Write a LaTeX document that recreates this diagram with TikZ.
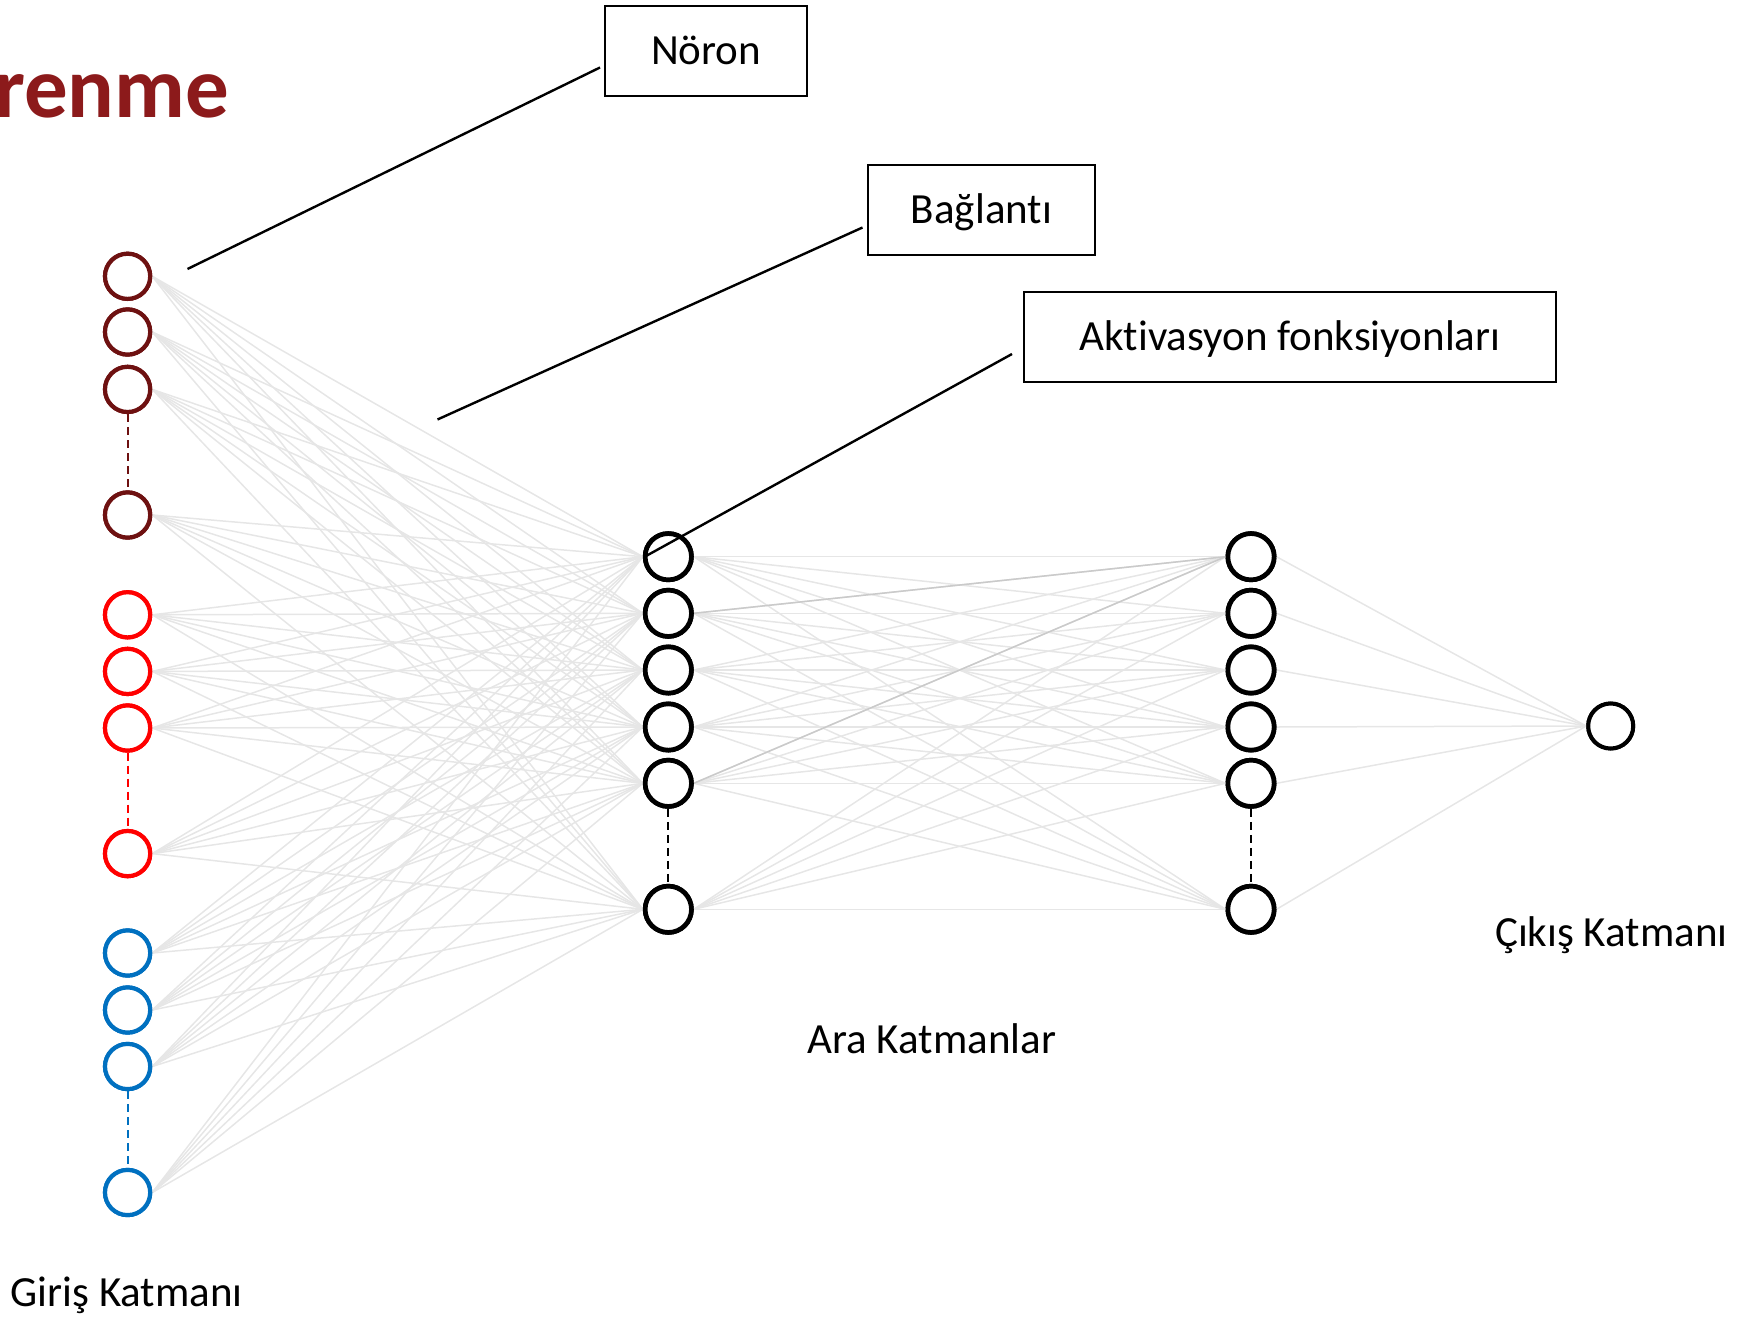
\documentclass[tikz,border=0pt]{standalone}
\usepackage{fontspec}
\setmainfont[Ligatures=NoCommon]{Carlito}
\usetikzlibrary{calc}

\definecolor{maroon}{HTML}{6E1111}
\definecolor{titlered}{HTML}{8C1A1B}
\definecolor{inred}{HTML}{FF0000}
\definecolor{inblue}{HTML}{0070C0}
\definecolor{wire}{HTML}{E6E6E6}
\definecolor{wiredark}{HTML}{CACACA}

\tikzset{
  neuron/.style={circle, draw=#1, fill=white, line width=4.2pt, minimum size=45.2pt, inner sep=0pt},
  hidneuron/.style={circle, draw=black, fill=white, line width=4.7pt, minimum size=46.3pt, inner sep=0pt},
  outneuron/.style={circle, draw=black, fill=white, line width=4pt, minimum size=45pt, inner sep=0pt},
  wireline/.style={draw=wire, line width=1.5pt},
  wirehi/.style={draw=wiredark, line width=1.5pt},
  gapline/.style={draw=#1, line width=2pt, dash pattern=on 8pt off 5pt},
  labelbox/.style={draw=black, line width=2.3pt, inner sep=0pt, minimum height=89.7pt,
                   text height=27.5pt, text depth=0pt, font=\fontsize{43}{43}\selectfont},
  layertext/.style={anchor=base, inner sep=0pt, font=\fontsize{43}{43}\selectfont},
  callout/.style={draw=black, line width=2.4pt},
}

\begin{document}
\begin{tikzpicture}[x=1pt, y=-1pt]
  \useasboundingbox (0,0) rectangle (1740,1317);

  % title fragment, running off the left edge
  \node[anchor=base west, inner sep=0pt, text=titlered,
        font=\fontsize{87}{87}\selectfont\bfseries] (title) at (-6,117.5) {renme};

  % input layer
  \foreach \i/\y/\c in {1/276.3/maroon, 2/332/maroon, 3/389.4/maroon, 4/515/maroon,
                        5/614.8/inred, 6/671.4/inred, 7/728/inred, 8/853.6/inred,
                        9/953/inblue, 10/1010/inblue, 11/1066.5/inblue, 12/1192.5/inblue}
    \node[neuron=\c] (in\i) at (127.6,\y) {};

  % hidden layers
  \foreach \i/\y in {1/556.7, 2/613.3, 3/670, 4/727, 5/783.3, 6/909.3} {
    \node[hidneuron] (ha\i) at (668.3,\y) {};
    \node[hidneuron] (hb\i) at (1251,\y) {};
  }

  % output layer
  \node[outneuron] (out) at (1610.7,726) {};

  % connections
  \foreach \i in {1,...,12}
    \foreach \j in {1,...,6}
      \draw[wireline] (in\i.east) -- (ha\j.west);
  \foreach \i in {1,...,6}
    \foreach \j in {1,...,6}
      \draw[wireline] (ha\i.east) -- (hb\j.west);
  \foreach \i in {1,...,6}
    \draw[wireline] (hb\i.east) -- (out.west);
  \draw[wirehi] (ha2.east) -- (hb1.west);
  \draw[wirehi] (ha5.east) -- (hb1.west);

  % redraw neurons over the wires
  \foreach \i/\c in {1/maroon, 2/maroon, 3/maroon, 4/maroon,
                     5/inred, 6/inred, 7/inred, 8/inred,
                     9/inblue, 10/inblue, 11/inblue, 12/inblue}
    \node[neuron=\c] at (in\i) {};
  \foreach \i in {1,...,6} {
    \node[hidneuron] at (ha\i) {};
    \node[hidneuron] at (hb\i) {};
  }
  \node[outneuron] at (out) {};

  % elided neurons
  \draw[gapline=maroon] (in3.south) -- (in4.north);
  \draw[gapline=inred] (in7.south) -- (in8.north);
  \draw[gapline=inblue] (in11.south) -- (in12.north);
  \draw[gapline=black] (ha5.south) -- (ha6.north);
  \draw[gapline=black] (hb5.south) -- (hb6.north);

  % layer names
  \node[layertext] (lin) at (126.7,1306.7) {Giriş Katmanı};
  \node[layertext] (lhid) at (931.7,1053.3) {Ara Katmanlar};
  \node[layertext] (lout) at (1611.3,946.7) {Çıkış Katmanı};

  % callout boxes
  \node[labelbox, minimum width=201.7pt] (noron) at (706,51) {Nöron};
  \node[labelbox, minimum width=226.7pt] (baglanti) at (981.5,210) {Bağlantı};
  \node[labelbox, minimum width=531.7pt] (aktiv) at (1290,337) {Aktivasyon fonksiyonları};

  % callout leaders
  \coordinate (n1) at (187.5,269);
  \coordinate (n2) at (600,67.5);
  \coordinate (b1) at (437.5,419.5);
  \coordinate (b2) at (862.5,227.5);
  \coordinate (a1) at (646,556);
  \coordinate (a2) at (1012,354);
  \draw[callout] (n1) -- (n2);
  \draw[callout] (b1) -- (b2);
  \draw[callout] (a1) -- (a2);
\end{tikzpicture}
\end{document}
